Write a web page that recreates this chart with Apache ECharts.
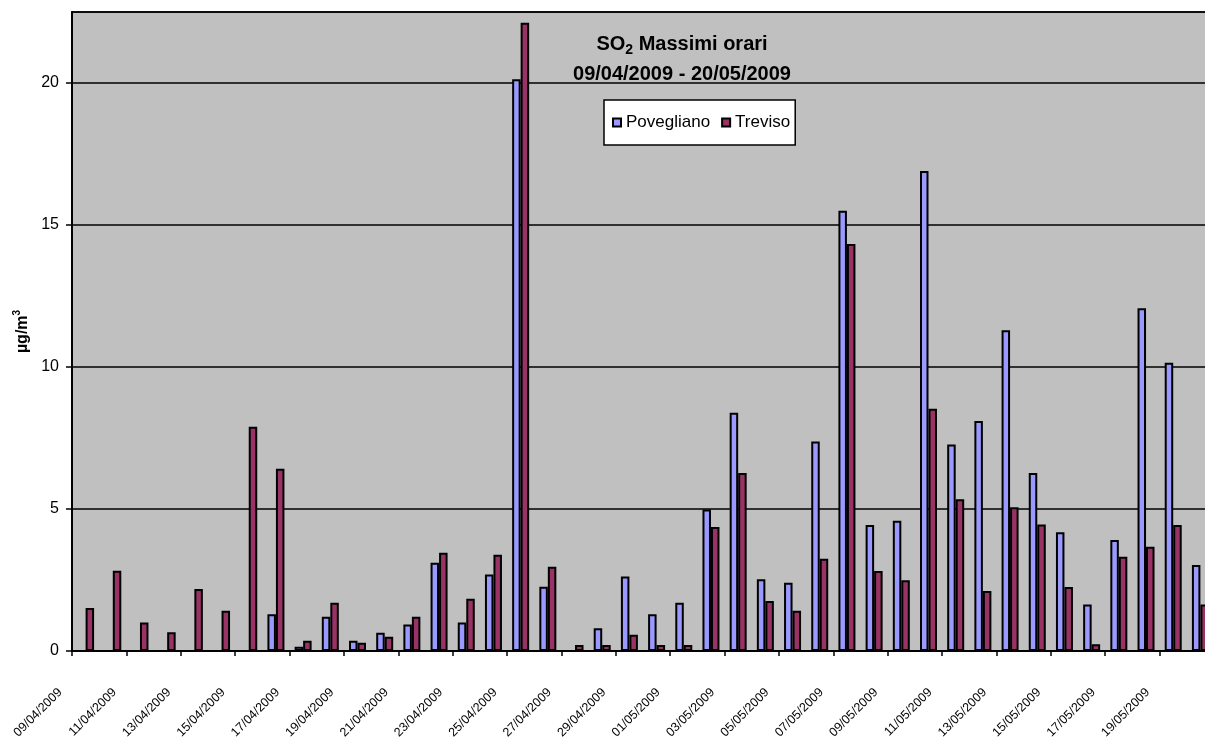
<!DOCTYPE html>
<html>
<head>
<meta charset="utf-8">
<script src="https://cdn.jsdelivr.net/npm/echarts@6/dist/echarts.min.js"></script>
<style>
  html, body { margin: 0; padding: 0; background: #fff; }
  #chart { width: 1205px; height: 738px; }
</style>
</head>
<body>
<div id="chart"></div>
<script>
// days 09/04/2009 .. 20/05/2009
const days = [
  '09/04/2009', '10/04/2009', '11/04/2009', '12/04/2009', '13/04/2009', '14/04/2009',
  '15/04/2009', '16/04/2009', '17/04/2009', '18/04/2009', '19/04/2009', '20/04/2009',
  '21/04/2009', '22/04/2009', '23/04/2009', '24/04/2009', '25/04/2009', '26/04/2009',
  '27/04/2009', '28/04/2009', '29/04/2009', '30/04/2009', '01/05/2009', '02/05/2009',
  '03/05/2009', '04/05/2009', '05/05/2009', '06/05/2009', '07/05/2009', '08/05/2009',
  '09/05/2009', '10/05/2009', '11/05/2009', '12/05/2009', '13/05/2009', '14/05/2009',
  '15/05/2009', '16/05/2009', '17/05/2009', '18/05/2009', '19/05/2009', '20/05/2009'
];

// µg/m3, null = no data
const povegliano = [
  null, null, null, null, null, null, null, 1.29, 0.15, 1.21, 0.36, 0.64,
  0.93, 3.11, 1.0, 2.69, 20.13, 2.26, null, 0.8, 2.62, 1.29, 1.70, 4.98,
  8.39, 2.53, 2.40, 7.38, 15.5, 4.44, 4.59, 16.9, 7.27, 8.1, 11.29, 6.27,
  4.18, 1.64, 3.91, 12.07, 10.15, 3.03
];
const treviso = [
  1.51, 2.83, 1.0, 0.66, 2.18, 1.42, 7.9, 6.42, 0.36, 1.70, 0.29, 0.50,
  1.21, 3.46, 1.84, 3.39, 22.12, 2.97, 0.21, 0.21, 0.57, 0.21, 0.21, 4.37,
  6.27, 1.76, 1.42, 3.25, 14.33, 2.82, 2.49, 8.53, 5.34, 2.11, 5.06, 4.45,
  2.25, 0.24, 3.32, 3.67, 4.44, 1.64
];

const yTicks = [0, 5, 10, 15, 20];
const yMax = 22.5;

const font = 'Liberation Sans, Arial, sans-serif';

const chart = echarts.init(document.getElementById('chart'));

const options = {
  animation: false,
  backgroundColor: '#fff',
  textStyle: { fontFamily: font, color: '#000' },
  title: {
    text: '{b|SO}{sub|2}{b| Massimi orari}\n{b|09/04/2009 - 20/05/2009}',
    left: 682,
    top: 29,
    padding: 0,
    textAlign: 'center',
    textStyle: {
      fontFamily: font,
      rich: {
        b: { fontSize: 20, fontWeight: 'bold', fontFamily: font, color: '#000', lineHeight: 30, verticalAlign: 'middle' },
        sub: { fontSize: 14, fontWeight: 'bold', fontFamily: font, color: '#000', lineHeight: 30, verticalAlign: 'bottom', padding: [0, 0, 2, 0] }
      }
    }
  },
  legend: {
    left: 604,
    top: 100,
    orient: 'horizontal',
    backgroundColor: '#fff',
    borderColor: '#000',
    borderWidth: 1.5,
    borderRadius: 0,
    padding: [14, 5, 14, 8],
    itemGap: 11,
    itemWidth: 8,
    itemHeight: 8,
    icon: 'rect',
    textStyle: { fontSize: 17, fontFamily: font, color: '#000' },
    data: ['Povegliano', 'Treviso']
  },
  grid: {
    left: 72,
    right: -9,
    top: 12,
    bottom: 87,
    containLabel: false,
    outerBoundsMode: 'none',
    show: true,
    backgroundColor: '#C0C0C0',
    borderColor: '#000',
    borderWidth: 1.5
  },
  xAxis: {
    type: 'category',
    data: days,
    boundaryGap: true,
    axisLine: { show: true, lineStyle: { color: '#000', width: 2 } },
    axisTick: { show: true, interval: 1, length: 5, lineStyle: { color: '#000', width: 1.5 } },
    axisLabel: {
      interval: 1,
      rotate: 45,
      fontSize: 12.5,
      fontFamily: font,
      color: '#000',
      margin: 14,
      padding: [0, 36, 0, 0]
    },
    splitLine: { show: false }
  },
  yAxis: {
    type: 'value',
    min: yTicks[0],
    max: yMax,
    interval: yTicks[1] - yTicks[0],
    name: '{n|µg/m}{sup|3}',
    nameLocation: 'middle',
    nameGap: 35,
    nameRotate: 90,
    nameTextStyle: {
      rich: {
        n: { fontSize: 16, fontWeight: 'bold', fontFamily: font, color: '#000', lineHeight: 20, verticalAlign: 'middle' },
        sup: { fontSize: 10, fontWeight: 'bold', fontFamily: font, color: '#000', lineHeight: 20, verticalAlign: 'top' }
      }
    },
    axisLine: { show: true, lineStyle: { color: '#000', width: 2 } },
    axisTick: { show: true, length: 6, lineStyle: { color: '#000', width: 1.5 } },
    axisLabel: {
      fontSize: 16,
      fontFamily: font,
      color: '#000',
      margin: 13,
      showMaxLabel: false,
      formatter: function (v) { return yTicks.indexOf(v) >= 0 ? String(v) : ''; }
    },
    splitLine: { show: true, lineStyle: { color: '#000', width: 1.5 } }
  },
  series: [
    {
      name: 'Povegliano',
      type: 'bar',
      data: povegliano,
      barWidth: 8.5,
      barGap: '0%',
      itemStyle: { color: '#9999FF', borderColor: '#000', borderWidth: 2 }
    },
    {
      name: 'Treviso',
      type: 'bar',
      data: treviso,
      barWidth: 8.5,
      barGap: '0%',
      itemStyle: { color: '#993366', borderColor: '#000', borderWidth: 2 }
    }
  ]
};

chart.setOption(options);
</script>
</body>
</html>
